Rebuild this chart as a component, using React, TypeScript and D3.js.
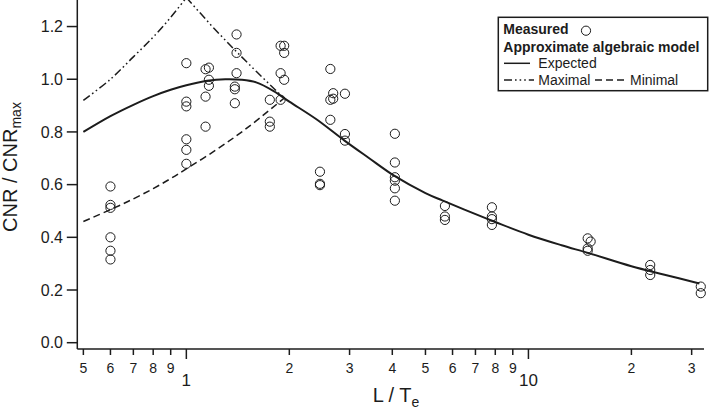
import React from "react";
import * as d3 from "d3";

const WIDTH = 709;
const HEIGHT = 412;
const FONT = "'Liberation Sans', Arial, Helvetica, sans-serif";

// measured points (L/Te, CNR/CNRmax)
const measuredL = [
  0.6, 0.6, 0.6, 0.6, 0.6, 0.6,
  1.0, 1.0, 1.0, 1.0, 1.0, 1.0,
  1.138, 1.138, 1.138, 1.164, 1.164, 1.164,
  1.386, 1.386, 1.386, 1.402, 1.402, 1.402,
  1.754, 1.754, 1.754, 1.886, 1.886, 1.886, 1.932, 1.932, 1.932,
  2.458, 2.458, 2.458,
  2.636, 2.636, 2.636, 2.687, 2.687, 2.908, 2.908, 2.908,
  4.07, 4.07, 4.07, 4.07, 4.07, 4.07,
  5.7, 5.7, 5.7,
  7.82, 7.82, 7.82, 7.82,
  14.9, 14.9, 14.9, 15.2,
  22.7, 22.7, 22.7,
  31.9, 31.9,
];
const measuredCNR = [
  0.593, 0.523, 0.512, 0.4, 0.349, 0.316,
  1.061, 0.915, 0.897, 0.772, 0.732, 0.679,
  1.038, 0.934, 0.82, 1.044, 0.998, 0.975,
  0.972, 0.962, 0.909, 1.17, 1.1, 1.023,
  0.922, 0.839, 0.82, 1.127, 1.023, 0.922, 1.127, 1.1, 0.998,
  0.649, 0.603, 0.598,
  1.039, 0.922, 0.846, 0.947, 0.926, 0.945, 0.792, 0.767,
  0.793, 0.684, 0.628, 0.615, 0.586, 0.539,
  0.519, 0.479, 0.466,
  0.514, 0.479, 0.469, 0.447,
  0.396, 0.358, 0.349, 0.384,
  0.295, 0.276, 0.257,
  0.213, 0.188,
];

// approximate algebraic model
const expectedL = [0.5, 0.6, 0.7, 0.8, 0.9, 1.0, 1.15, 1.3, 1.45, 1.6, 1.8, 2.0, 2.4, 2.9, 3.4, 4.07, 5, 5.6, 6.5, 8, 10, 12.5, 15, 20, 25, 31.6];
const expectedCNR = [0.8, 0.86, 0.903, 0.936, 0.96, 0.977, 0.994, 1.0, 0.998, 0.988, 0.955, 0.915, 0.848, 0.767, 0.703, 0.632, 0.568, 0.54, 0.505, 0.458, 0.41, 0.37, 0.34, 0.29, 0.258, 0.225];

const maximalL = [0.5, 0.6, 0.7, 0.8, 0.9, 1.0, 1.2, 1.4, 1.6, 1.9];
const maximalCNR = [0.92, 1.0, 1.085, 1.16, 1.235, 1.31, 1.195, 1.105, 1.03, 0.936];

const minimalL = [0.5, 0.6, 0.7, 0.8, 0.9, 1.0, 1.2, 1.4, 1.6, 1.93];
const minimalCNR = [0.46, 0.505, 0.546, 0.585, 0.623, 0.66, 0.725, 0.785, 0.842, 0.928];

// axis ticks
const xMinorTicks = [0.5, 0.6, 0.7, 0.8, 0.9, 2, 3, 4, 5, 6, 7, 8, 9, 20, 30];
const xMinorLabels = ["5", "6", "7", "8", "9", "2", "3", "4", "5", "6", "7", "8", "9", "2", "3"];
const xMajorTicks = [1, 10];
const xMajorLabels = ["1", "10"];
const yTicks = [0, 0.2, 0.4, 0.6, 0.8, 1.0, 1.2];

const X0 = 77.3;
const X1 = 704;
const AXIS_Y = 349;

export default function App() {
  const x = d3.scaleLog().domain([0.48, 32.6]).range([X0, X1]);
  const y = d3.scaleLinear().domain([0, 1.3]).range([342.7, 0.2]);

  const line = d3
    .line<[number, number]>()
    .x((d) => x(d[0]))
    .y((d) => y(d[1]))
    .curve(d3.curveCatmullRom.alpha(0.5));
  const straight = d3
    .line<[number, number]>()
    .x((d) => x(d[0]))
    .y((d) => y(d[1]));

  const zip = (a: number[], b: number[]) => a.map((v, i) => [v, b[i]] as [number, number]);
  const expected = zip(expectedL, expectedCNR);
  const maximal = zip(maximalL, maximalCNR);
  const minimal = zip(minimalL, minimalCNR);
  const peak = maximalL.indexOf(1.0);

  const ink = "#1c1c1c";
  const dashDot = "8,3,1.6,3,1.6,3";

  return (
    <svg
      width={WIDTH}
      height={HEIGHT}
      style={{ position: "absolute", left: 0, top: 0, background: "#fff" }}
      fontFamily={FONT}
    >
      <defs>
        <clipPath id="plot">
          <rect x={X0} y={0} width={X1 - X0} height={AXIS_Y} />
        </clipPath>
      </defs>

      {/* model curves */}
      <g clipPath="url(#plot)" fill="none" stroke={ink}>
        <path d={line(maximal.slice(0, peak + 1)) || ""} strokeWidth={1.5} strokeDasharray={dashDot} />
        <path d={straight(maximal.slice(peak)) || ""} strokeWidth={1.5} strokeDasharray={dashDot} />
        <path d={line(minimal) || ""} strokeWidth={1.5} strokeDasharray="7,4" />
        <path d={line(expected) || ""} strokeWidth={2} />
      </g>

      {/* measured */}
      <g fill="none" stroke={ink} strokeWidth={1}>
        {measuredL.map((l, i) => (
          <circle key={i} cx={x(l)} cy={y(measuredCNR[i])} r={4.6} />
        ))}
      </g>

      {/* axes */}
      <g stroke={ink} strokeWidth={1.5}>
        <line x1={X0} x2={X0} y1={0} y2={AXIS_Y} />
        <line x1={X0} x2={X1} y1={AXIS_Y} y2={AXIS_Y} />
        {yTicks.map((t) => (
          <line key={t} x1={X0 - 10.5} x2={X0} y1={y(t)} y2={y(t)} />
        ))}
        {xMinorTicks.map((t) => (
          <line key={t} x1={x(t)} x2={x(t)} y1={AXIS_Y} y2={AXIS_Y + 6} />
        ))}
        {xMajorTicks.map((t) => (
          <line key={t} x1={x(t)} x2={x(t)} y1={AXIS_Y} y2={AXIS_Y + 10} />
        ))}
      </g>

      <g fill={ink}>
        {yTicks.map((t) => (
          <text key={t} x={63} y={y(t)} dy="0.36em" textAnchor="end" fontSize={16}>
            {d3.format(".1f")(t)}
          </text>
        ))}
        {xMinorTicks.map((t, i) => (
          <text key={t} x={x(t)} y={373} textAnchor="middle" fontSize={14}>
            {xMinorLabels[i]}
          </text>
        ))}
        {xMajorTicks.map((t, i) => (
          <text key={t} x={x(t)} y={386} textAnchor="middle" fontSize={17}>
            {xMajorLabels[i]}
          </text>
        ))}

        <text x={396} y={402} textAnchor="middle" fontSize={20}>
          L / T<tspan fontSize={14} dy={5}>e</tspan>
        </text>
        <text transform="translate(17.3,167) rotate(-90)" textAnchor="middle" fontSize={20}>
          CNR / CNR<tspan fontSize={14} dy={3.8}>max</tspan>
        </text>
      </g>

      {/* legend */}
      <g>
        <rect x={498.3} y={17.3} width={209.4} height={73.4} fill="#fff" stroke={ink} strokeWidth={1.5} />
        <text x={503.3} y={34.3} fontSize={14} fontWeight="bold" fill={ink}>Measured</text>
        <circle cx={586} cy={30.7} r={4.6} fill="none" stroke={ink} strokeWidth={1} />
        <text x={503.3} y={51.7} fontSize={14} fontWeight="bold" fill={ink}>Approximate algebraic model</text>
        <line x1={504} x2={530} y1={63.3} y2={63.3} stroke={ink} strokeWidth={1.5} />
        <text x={538.3} y={68} fontSize={14} fill={ink}>Expected</text>
        <line x1={504} x2={534} y1={80} y2={80} stroke={ink} strokeWidth={1.4} strokeDasharray="8,3,1.6,3,1.6,3,1.6,3" />
        <text x={538.3} y={84.5} fontSize={14} fill={ink}>Maximal</text>
        <line x1={595} x2={624} y1={80} y2={80} stroke={ink} strokeWidth={1.4} strokeDasharray="7,4" />
        <text x={630} y={84.5} fontSize={14} fill={ink}>Minimal</text>
      </g>
    </svg>
  );
}
